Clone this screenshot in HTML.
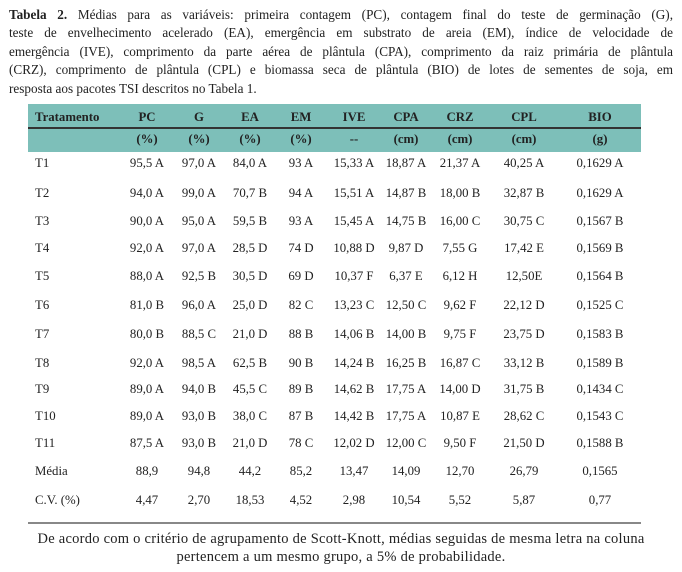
<!DOCTYPE html>
<html><head><meta charset="utf-8"><style>
body{margin:0;width:682px;height:572px;background:#fff;font-family:"Liberation Serif",serif;color:#222;position:relative;overflow:hidden}
.t{position:absolute;left:9px;top:6px;width:664px;font-size:13.2px;line-height:18.4px}
.t div{text-align:justify;text-align-last:justify;white-space:nowrap;height:18.4px}
.t div.l{text-align-last:left}
.hd{position:absolute;left:28px;top:104px;width:613px;height:48px;background:#7dbfb9}
.ln{position:absolute;left:28px;top:127px;width:613px;height:1.5px;background:#333}
.r{position:absolute;left:0;width:682px;height:16px;font-size:12.8px;line-height:16px}
.r div{position:absolute;width:90px;margin-left:-45px;text-align:center;white-space:nowrap}
.r div.f{margin-left:0;text-align:left}
.b{font-weight:bold}
.bot{position:absolute;left:28px;top:522px;width:613px;height:2px;background:#888}
.fn{position:absolute;left:0;width:682px;top:531px;text-align:center;font-size:14.5px;line-height:17.5px;letter-spacing:0.25px}
</style></head><body>
<div class="t">
<div><b>Tabela 2.</b> Médias para as variáveis: primeira contagem (PC), contagem final do teste de germinação (G),</div>
<div>teste de envelhecimento acelerado (EA), emergência em substrato de areia (EM), índice de velocidade de</div>
<div>emergência (IVE), comprimento da parte aérea de plântula (CPA), comprimento da raiz primária de plântula</div>
<div>(CRZ), comprimento de plântula (CPL) e biomassa seca de plântula (BIO) de lotes de sementes de soja, em</div>
<div class="l">resposta aos pacotes TSI descritos no Tabela 1.</div>
</div>
<div class="hd"></div><div class="ln"></div>
<div class="r b" style="top:109px"><div class="f" style="left:35px">Tratamento</div><div style="left:147px">PC</div><div style="left:199px">G</div><div style="left:250px">EA</div><div style="left:301px">EM</div><div style="left:354px">IVE</div><div style="left:406px">CPA</div><div style="left:460px">CRZ</div><div style="left:524px">CPL</div><div style="left:600px">BIO</div></div>
<div class="r b" style="top:131px"><div style="left:147px">(%)</div><div style="left:199px">(%)</div><div style="left:250px">(%)</div><div style="left:301px">(%)</div><div style="left:354px">--</div><div style="left:406px">(cm)</div><div style="left:460px">(cm)</div><div style="left:524px">(cm)</div><div style="left:600px">(g)</div></div>

<div class="r" style="top:155px"><div class="f" style="left:35px">T1</div><div style="left:147px">95,5 A</div><div style="left:199px">97,0 A</div><div style="left:250px">84,0 A</div><div style="left:301px">93 A</div><div style="left:354px">15,33 A</div><div style="left:406px">18,87 A</div><div style="left:460px">21,37 A</div><div style="left:524px">40,25 A</div><div style="left:600px">0,1629 A</div></div>
<div class="r" style="top:185px"><div class="f" style="left:35px">T2</div><div style="left:147px">94,0 A</div><div style="left:199px">99,0 A</div><div style="left:250px">70,7 B</div><div style="left:301px">94 A</div><div style="left:354px">15,51 A</div><div style="left:406px">14,87 B</div><div style="left:460px">18,00 B</div><div style="left:524px">32,87 B</div><div style="left:600px">0,1629 A</div></div>
<div class="r" style="top:213px"><div class="f" style="left:35px">T3</div><div style="left:147px">90,0 A</div><div style="left:199px">95,0 A</div><div style="left:250px">59,5 B</div><div style="left:301px">93 A</div><div style="left:354px">15,45 A</div><div style="left:406px">14,75 B</div><div style="left:460px">16,00 C</div><div style="left:524px">30,75 C</div><div style="left:600px">0,1567 B</div></div>
<div class="r" style="top:240px"><div class="f" style="left:35px">T4</div><div style="left:147px">92,0 A</div><div style="left:199px">97,0 A</div><div style="left:250px">28,5 D</div><div style="left:301px">74 D</div><div style="left:354px">10,88 D</div><div style="left:406px">9,87 D</div><div style="left:460px">7,55 G</div><div style="left:524px">17,42 E</div><div style="left:600px">0,1569 B</div></div>
<div class="r" style="top:268px"><div class="f" style="left:35px">T5</div><div style="left:147px">88,0 A</div><div style="left:199px">92,5 B</div><div style="left:250px">30,5 D</div><div style="left:301px">69 D</div><div style="left:354px">10,37 F</div><div style="left:406px">6,37 E</div><div style="left:460px">6,12 H</div><div style="left:524px">12,50E</div><div style="left:600px">0,1564 B</div></div>
<div class="r" style="top:297px"><div class="f" style="left:35px">T6</div><div style="left:147px">81,0 B</div><div style="left:199px">96,0 A</div><div style="left:250px">25,0 D</div><div style="left:301px">82 C</div><div style="left:354px">13,23 C</div><div style="left:406px">12,50 C</div><div style="left:460px">9,62 F</div><div style="left:524px">22,12 D</div><div style="left:600px">0,1525 C</div></div>
<div class="r" style="top:326px"><div class="f" style="left:35px">T7</div><div style="left:147px">80,0 B</div><div style="left:199px">88,5 C</div><div style="left:250px">21,0 D</div><div style="left:301px">88 B</div><div style="left:354px">14,06 B</div><div style="left:406px">14,00 B</div><div style="left:460px">9,75 F</div><div style="left:524px">23,75 D</div><div style="left:600px">0,1583 B</div></div>
<div class="r" style="top:355px"><div class="f" style="left:35px">T8</div><div style="left:147px">92,0 A</div><div style="left:199px">98,5 A</div><div style="left:250px">62,5 B</div><div style="left:301px">90 B</div><div style="left:354px">14,24 B</div><div style="left:406px">16,25 B</div><div style="left:460px">16,87 C</div><div style="left:524px">33,12 B</div><div style="left:600px">0,1589 B</div></div>
<div class="r" style="top:381px"><div class="f" style="left:35px">T9</div><div style="left:147px">89,0 A</div><div style="left:199px">94,0 B</div><div style="left:250px">45,5 C</div><div style="left:301px">89 B</div><div style="left:354px">14,62 B</div><div style="left:406px">17,75 A</div><div style="left:460px">14,00 D</div><div style="left:524px">31,75 B</div><div style="left:600px">0,1434 C</div></div>
<div class="r" style="top:408px"><div class="f" style="left:35px">T10</div><div style="left:147px">89,0 A</div><div style="left:199px">93,0 B</div><div style="left:250px">38,0 C</div><div style="left:301px">87 B</div><div style="left:354px">14,42 B</div><div style="left:406px">17,75 A</div><div style="left:460px">10,87 E</div><div style="left:524px">28,62 C</div><div style="left:600px">0,1543 C</div></div>
<div class="r" style="top:435px"><div class="f" style="left:35px">T11</div><div style="left:147px">87,5 A</div><div style="left:199px">93,0 B</div><div style="left:250px">21,0 D</div><div style="left:301px">78 C</div><div style="left:354px">12,02 D</div><div style="left:406px">12,00 C</div><div style="left:460px">9,50 F</div><div style="left:524px">21,50 D</div><div style="left:600px">0,1588 B</div></div>
<div class="r" style="top:463px"><div class="f" style="left:35px">Média</div><div style="left:147px">88,9</div><div style="left:199px">94,8</div><div style="left:250px">44,2</div><div style="left:301px">85,2</div><div style="left:354px">13,47</div><div style="left:406px">14,09</div><div style="left:460px">12,70</div><div style="left:524px">26,79</div><div style="left:600px">0,1565</div></div>
<div class="r" style="top:492px"><div class="f" style="left:35px">C.V. (%)</div><div style="left:147px">4,47</div><div style="left:199px">2,70</div><div style="left:250px">18,53</div><div style="left:301px">4,52</div><div style="left:354px">2,98</div><div style="left:406px">10,54</div><div style="left:460px">5,52</div><div style="left:524px">5,87</div><div style="left:600px">0,77</div></div>
<div class="bot"></div>
<div class="fn">De acordo com o critério de agrupamento de Scott-Knott, médias seguidas de mesma letra na coluna<br>pertencem a um mesmo grupo, a 5% de probabilidade.</div>
</body></html>
